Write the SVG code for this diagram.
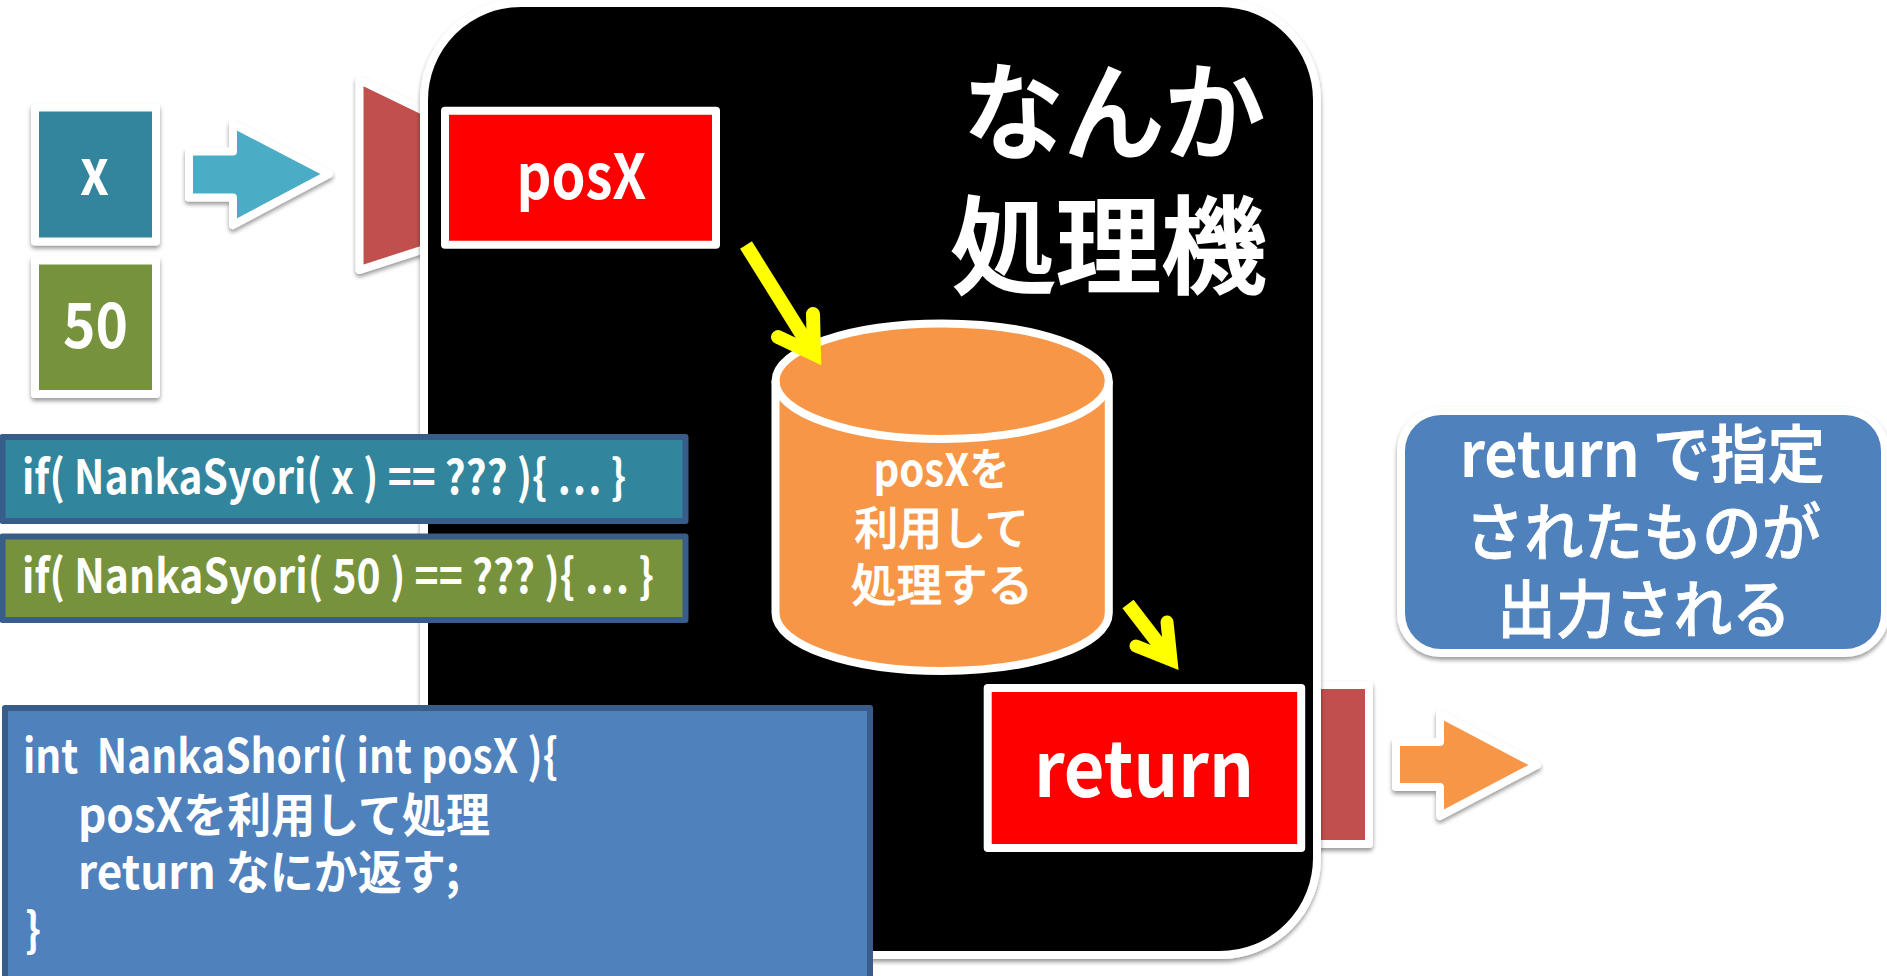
<svg xmlns="http://www.w3.org/2000/svg" width="1887" height="976" viewBox="0 0 1887 976">
<style>
text{font-family:"Noto Sans CJK JP","Noto Sans",sans-serif;font-weight:700;fill:#fff}
.m{font-weight:500;stroke:#fff;stroke-width:.8}
.t{font-weight:500;stroke:#fff;stroke-width:2.200}
.w{stroke:#fff;stroke-width:8;stroke-linejoin:round}
.sh{filter:url(#s)}
.b{stroke:#385d8a;stroke-width:6;stroke-linejoin:round}
.y{fill:none;stroke:#ff0;stroke-width:14;stroke-linejoin:miter;stroke-miterlimit:6;stroke-linecap:round}
</style>
<defs>
<filter id="s" x="-10%" y="-10%" width="120%" height="120%"><feDropShadow dx="0" dy="3" stdDeviation="2" flood-color="#000" flood-opacity=".4"/></filter>
</defs>
<rect width="1887" height="976" fill="#fff"/>
<g id="port-in"><path class="w sh" d="M359.500 80 L440 119 V244 L359.500 270 Z" fill="#c0504d"/></g>
<g id="port-out"><rect class="w sh" x="1270" y="685" width="99" height="159" fill="#c0504d"/></g>
<g id="machine"><rect class="w sh" x="424" y="3" width="893" height="952" rx="97" ry="97" fill="#000"/>
<text class="t" font-size="106" text-anchor="middle"><tspan x="1114" y="151" textLength="302" lengthAdjust="spacingAndGlyphs">なんか</tspan><tspan x="1108.500" y="285" textLength="316" lengthAdjust="spacingAndGlyphs">処理機</tspan></text></g>
<g id="value-x"><rect class="w sh" x="35" y="107.500" width="121" height="134" fill="#31859c"/>
<text x="94.500" y="195" font-size="64" text-anchor="middle" textLength="29" lengthAdjust="spacingAndGlyphs">x</text></g>
<g id="value-50"><rect class="w sh" x="35" y="260.500" width="121" height="133.500" fill="#76923c"/>
<text x="95.500" y="348" font-size="62" text-anchor="middle" textLength="65" lengthAdjust="spacingAndGlyphs">50</text></g>
<g id="param"><rect class="w" x="445" y="110.700" width="271" height="134" fill="#f00"/>
<text x="581.500" y="198.500" font-size="62" text-anchor="middle" textLength="130" lengthAdjust="spacingAndGlyphs">posX</text></g>
<g id="cylinder"><path class="w" d="M775.500 381 C775.500 349 850 323.500 942 323.500 S1108.800 349 1108.800 381 V613 C1108.800 645 1034 671 942 671 S775.500 645 775.500 613 Z" fill="#f79646"/>
<path class="w" fill="none" d="M775.500 381 C775.500 413 850 439 942 439 S1108.800 413 1108.800 381"/>
<text font-size="45" text-anchor="middle"><tspan x="941.500" y="485.500" textLength="136" lengthAdjust="spacingAndGlyphs">posXを</tspan><tspan class="m" x="941.500" y="545" textLength="174" lengthAdjust="spacingAndGlyphs">利用して</tspan><tspan class="m" x="942" y="602" textLength="182" lengthAdjust="spacingAndGlyphs">処理する</tspan></text></g>
<g id="return"><rect class="w" x="987.700" y="688" width="313.500" height="160" fill="#f00"/>
<text x="1144" y="796.500" font-size="77" text-anchor="middle" textLength="220" lengthAdjust="spacingAndGlyphs">return</text></g>
<g id="call-x"><rect class="b" x="2.500" y="437" width="683" height="84" fill="#31859c"/>
<text x="22" y="494" font-size="47" textLength="604" lengthAdjust="spacingAndGlyphs">if( NankaSyori( x ) == ??? ){ … }</text></g>
<g id="call-50"><rect class="b" x="2.500" y="536.500" width="683" height="83.500" fill="#76923c"/>
<text x="22" y="593" font-size="47" textLength="632" lengthAdjust="spacingAndGlyphs">if( NankaSyori( 50 ) == ??? ){ … }</text></g>
<g id="code"><rect class="b" x="5" y="708" width="865" height="300" fill="#4f81bd"/>
<text font-size="47" xml:space="preserve"><tspan x="23" y="773" textLength="535" lengthAdjust="spacingAndGlyphs">int  NankaShori( int posX ){</tspan><tspan x="78" y="832" textLength="412" lengthAdjust="spacingAndGlyphs">posXを利用して処理</tspan><tspan x="78" y="889" textLength="382" lengthAdjust="spacingAndGlyphs">return なにか返す;</tspan><tspan x="25" y="947" textLength="16" lengthAdjust="spacingAndGlyphs">}</tspan></text></g>
<g id="note"><rect class="w sh" x="1401" y="411" width="484" height="242" rx="40" ry="40" fill="#4f81bd"/>
<text font-size="63" text-anchor="middle"><tspan x="1642.500" y="477" textLength="365" lengthAdjust="spacingAndGlyphs">return で指定</tspan><tspan class="m" x="1643" y="555" textLength="356" lengthAdjust="spacingAndGlyphs">されたものが</tspan><tspan class="m" x="1644" y="632" textLength="294" lengthAdjust="spacingAndGlyphs">出力される</tspan></text></g>
<g id="connectors">
<path class="w sh" d="M189 151.500 H233 V124 L329 174 L233 225 V197.500 H189 Z" fill="#4bacc6"/>
<path class="w sh" d="M1396 742 H1440 V714 L1537 765 L1440 816 V787 H1396 Z" fill="#f79646"/>
<path d="M746 245 L814 354" fill="none" stroke="#ff0" stroke-width="14"/>
<path class="y" d="M813 314 L814 354 L778 337"/>
<path d="M1128 604 L1171 660" fill="none" stroke="#ff0" stroke-width="14"/>
<path class="y" style="stroke-width:13" d="M1167 622 L1171 660 L1136 646"/>
</g>
</svg>
